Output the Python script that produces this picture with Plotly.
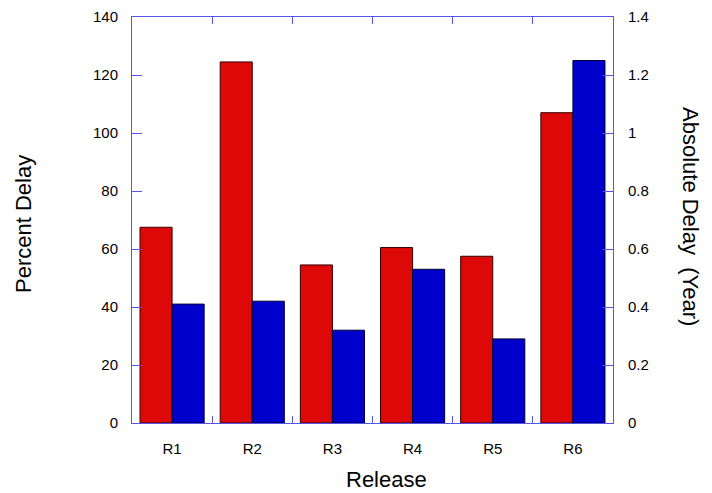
import plotly.graph_objects as go

releases = ["R1", "R2", "R3", "R4", "R5", "R6"]
percent_delay = [67.5, 124.5, 54.5, 60.5, 57.5, 107.0]
absolute_delay_years = [0.41, 0.42, 0.32, 0.53, 0.29, 1.25]
left_ticks = [0, 20, 40, 60, 80, 100, 120, 140]
right_ticks = [0, 0.2, 0.4, 0.6, 0.8, 1.0, 1.2, 1.4]
right_tick_labels = ["0", "0.2", "0.4", "0.6", "0.8", "1", "1.2", "1.4"]

axis_color = "#5555EE"
font_family = "Liberation Sans, Arial, sans-serif"

W, H = 712, 493
L, R, T, B = 132, 99, 17, 70
PW, PH = W - L - R, H - T - B


def px_to_paper(px, py):
    return (px - L) / PW, (H - B - py) / PH


fig = go.Figure()
fig.add_trace(go.Bar(
    x=releases, y=percent_delay, yaxis="y", offsetgroup="1",
    marker=dict(color="#DD0808", line=dict(color="#330000", width=1)),
    name="Percent Delay",
))
fig.add_trace(go.Bar(
    x=releases, y=absolute_delay_years, yaxis="y2", offsetgroup="2",
    marker=dict(color="#0000CC", line=dict(color="#000033", width=1)),
    name="Absolute Delay",
))

annots = []
for text, (px, py), ang in [
    ("Percent Delay", (23, 224), -90),
    ("Absolute Delay  (Year)", (691, 216), 90),
    ("Release", (386, 480), 0),
]:
    ax_, ay_ = px_to_paper(px, py)
    annots.append(dict(text=text, x=ax_, y=ay_, xref="paper", yref="paper",
                       xanchor="center", yanchor="middle", showarrow=False,
                       textangle=ang, font=dict(size=22)))

fig.update_layout(
    width=W, height=H,
    margin=dict(l=L, r=R, t=T, b=B, autoexpand=False),
    paper_bgcolor="white", plot_bgcolor="white",
    showlegend=False,
    barmode="group", bargap=0.2, bargroupgap=0,
    font=dict(family=font_family, color="black"),
    xaxis=dict(
        type="category", tickson="boundaries", ticks="inside", ticklen=7,
        tickcolor=axis_color, showline=True, linecolor=axis_color, linewidth=1,
        mirror="ticks", showgrid=False, tickfont=dict(size=15),
        ticklabelstandoff=12, automargin=False,
    ),
    yaxis=dict(
        range=[0, 140], tickvals=left_ticks, ticks="inside", ticklen=10,
        tickcolor=axis_color, showline=True, linecolor=axis_color, linewidth=1,
        showgrid=False, zeroline=False, tickfont=dict(size=15),
        ticklabelstandoff=10, automargin=False,
    ),
    yaxis2=dict(
        range=[0, 1.4], tickvals=right_ticks, ticktext=right_tick_labels,
        overlaying="y", side="right", ticks="inside", ticklen=10,
        tickcolor=axis_color, showline=True, linecolor=axis_color, linewidth=1,
        showgrid=False, zeroline=False, tickfont=dict(size=15),
        ticklabelstandoff=11, automargin=False,
    ),
    annotations=annots,
)

fig.write_html("out.html", config={"displayModeBar": False})

with open("out.html", "r", encoding="utf-8") as f:
    html = f.read()
html = html.replace("<head>", "<head><style>html,body{margin:0;padding:0;overflow:hidden;}</style>", 1)
with open("out.html", "w", encoding="utf-8") as f:
    f.write(html)
